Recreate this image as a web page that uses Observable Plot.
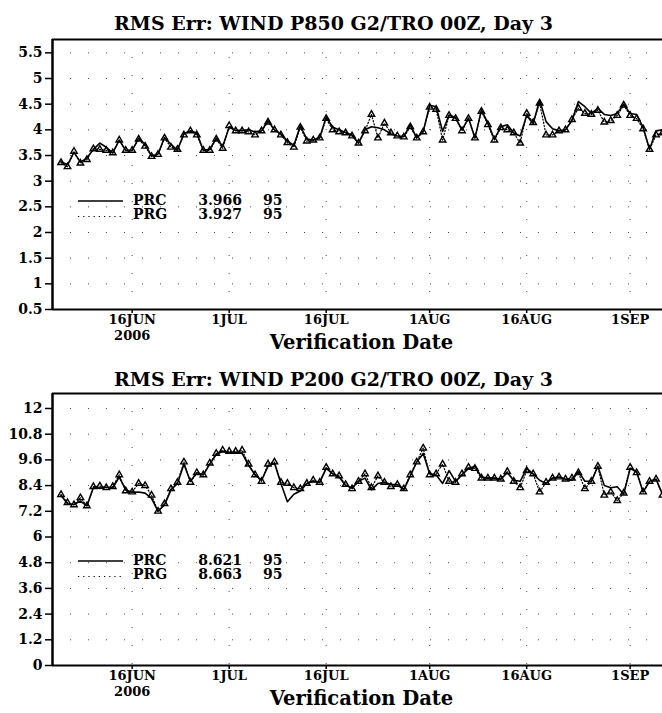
<!DOCTYPE html>
<html>
<head>
<meta charset="utf-8">
<script src="https://cdn.jsdelivr.net/npm/d3@7"></script>
<script src="https://cdn.jsdelivr.net/npm/@observablehq/plot@0.6"></script>
<style>
  body { margin: 0; background: white; }
  #chart svg { display: block; }
</style>
</head>
<body>
<div id="chart"></div>
<script>
// ---- Data ----
const firstDate = "2006-06-04T12:00Z";   // first verification point
const nDays = 95;

const xTickDates = ["2006-06-16", "2006-07-01", "2006-07-16", "2006-08-01", "2006-08-16", "2006-09-01"];
const xTickLabels = ["16JUN\n2006", "1JUL", "16JUL", "1AUG", "16AUG", "1SEP"];

// Panel 1: WIND P850
const title1 = "RMS Err: WIND P850 G2/TRO 00Z, Day 3";
const prc850 = [3.38,3.32,3.56,3.37,3.45,3.62,3.74,3.66,3.55,3.80,3.60,3.60,3.84,3.72,3.49,3.53,3.85,3.72,3.60,3.93,
  3.98,3.94,3.60,3.62,3.84,3.68,4.05,3.99,3.99,4.00,3.96,3.98,4.18,4.00,3.92,3.78,3.70,4.08,3.82,3.80,
  3.85,4.25,4.05,4.00,3.95,3.90,3.74,4.00,4.06,4.04,4.00,3.92,3.88,3.87,4.10,3.84,3.97,4.48,4.45,3.97,
  4.29,4.24,4.00,4.23,3.84,4.39,4.13,3.82,4.06,4.10,3.94,3.88,4.28,4.12,4.58,4.16,4.02,3.98,4.00,4.18,
  4.55,4.45,4.32,4.42,4.30,4.28,4.32,4.50,4.32,4.30,4.05,3.62,3.98,4.00,3.98];
const prg850 = [3.36,3.28,3.58,3.35,3.42,3.63,3.62,3.60,3.55,3.80,3.60,3.60,3.82,3.68,3.48,3.52,3.84,3.66,3.62,3.90,
  3.98,3.90,3.60,3.60,3.82,3.64,4.08,3.98,3.98,3.96,3.90,3.98,4.15,4.00,3.90,3.75,3.66,4.05,3.78,3.80,
  3.84,4.22,4.00,3.96,3.94,3.88,3.74,3.98,4.30,3.84,4.13,3.94,3.88,3.86,4.06,3.84,3.96,4.44,4.40,3.80,
  4.28,4.22,3.98,4.22,3.84,4.36,4.10,3.80,4.04,4.00,3.94,3.74,4.32,4.14,4.52,3.90,3.90,3.98,4.00,4.20,
  4.42,4.32,4.30,4.38,4.15,4.18,4.28,4.48,4.28,4.22,4.02,3.62,3.90,3.94,3.96];
const yTicks1 = [0.5, 1, 1.5, 2, 2.5, 3, 3.5, 4, 4.5, 5, 5.5];
const yLabels1 = ["0.5", "1", "1.5", "2", "2.5", "3", "3.5", "4", "4.5", "5", "5.5"];
const yDomain1 = [0.5, 5.76];
const legendNames1 = ["PRC", "PRG"];
const legendMeans1 = ["3.966", "3.927"];
const legendCounts1 = ["95", "95"];

// Panel 2: WIND P200
const title2 = "RMS Err: WIND P200 G2/TRO 00Z, Day 3";
const prc200 = [7.94,7.55,7.52,7.68,7.45,8.30,8.27,8.32,8.30,8.80,8.20,8.09,8.10,8.05,7.80,7.20,7.50,8.20,8.50,9.40,
  8.60,9.00,8.90,9.40,9.85,10.00,9.95,9.95,9.90,9.35,8.90,8.65,9.30,9.45,8.50,7.65,8.00,8.15,8.50,8.60,
  8.55,9.20,8.95,8.80,8.40,8.30,8.60,8.75,8.20,8.50,8.55,8.45,8.45,8.20,8.85,9.50,9.90,8.95,8.90,8.50,
  9.10,8.60,8.90,9.20,9.30,8.80,8.75,8.75,8.70,9.00,8.65,8.60,9.20,8.95,8.65,8.50,8.75,8.80,8.70,8.65,
  9.05,8.60,8.60,9.30,8.40,8.30,8.35,8.00,9.20,9.05,8.10,8.60,8.70,8.00,8.20];
const prg200 = [7.98,7.60,7.50,7.83,7.45,8.35,8.38,8.30,8.35,8.90,8.15,8.10,8.50,8.40,7.95,7.20,7.55,8.25,8.55,9.50,
  8.55,9.00,8.90,9.45,9.90,10.05,10.00,10.00,10.05,9.40,8.90,8.60,9.40,9.50,8.55,8.50,8.30,8.25,8.50,8.65,
  8.55,9.25,8.95,8.85,8.45,8.25,8.60,8.95,8.30,8.85,8.55,8.35,8.45,8.25,8.90,9.50,10.15,8.90,8.95,9.40,
  8.60,8.55,8.95,9.25,9.20,8.75,8.75,8.75,8.70,9.05,8.60,8.30,9.10,8.95,8.10,8.55,8.75,8.80,8.70,8.75,
  9.00,8.25,8.60,9.30,7.95,8.10,7.70,8.05,9.25,9.00,8.10,8.60,8.70,7.95,8.20];
const yTicks2 = [0, 1.2, 2.4, 3.6, 4.8, 6, 7.2, 8.4, 9.6, 10.8, 12];
const yLabels2 = ["0", "1.2", "2.4", "3.6", "4.8", "6", "7.2", "8.4", "9.6", "10.8", "12"];
const yDomain2 = [0, 12.7];
const legendNames2 = ["PRC", "PRG"];
const legendMeans2 = ["8.621", "8.663"];
const legendCounts2 = ["95", "95"];

const xAxisLabel = "Verification Date";

// ---- Build ----
const dates = d3.utcDay.range(new Date(firstDate), d3.utcDay.offset(new Date(firstDate), nDays));
const xDomain = [new Date("2006-06-03T16:20Z"), new Date("2006-09-06T00:00Z")];
const xTicks = xTickDates.map(s => new Date(s + "T00:00Z"));
const FONT = "DejaVu Serif";

function panel(cfg) {
  const data = dates.map((d, i) => ({date: d, prc: cfg.prc[i], prg: cfg.prg[i]}));
  const grid = {stroke: "black", strokeOpacity: 0.7, strokeWidth: 1, strokeDasharray: "1,17"};
  const svg = Plot.plot({
    width: 662,
    height: cfg.height,
    marginLeft: 52,
    marginRight: 0,
    marginTop: cfg.marginTop,
    marginBottom: cfg.marginBottom,
    style: {fontFamily: FONT, fontWeight: "bold", fontSize: "14px", color: "black", background: "white", overflow: "visible"},
    x: {type: "utc", domain: xDomain, label: null},
    y: {domain: cfg.yDomain, label: null},
    marks: [
      Plot.gridY(cfg.yTicks, grid),
      Plot.gridX(xTicks, grid),
      Plot.lineY(data, {x: "date", y: "prg", stroke: "black", strokeWidth: 1.2, strokeDasharray: "1.2,2", clip: true}),
      Plot.dot(data, {x: "date", y: "prg", symbol: "triangle", r: 2.4, stroke: "black", strokeWidth: 1.4, fill: "none", clip: true}),
      Plot.lineY(data, {x: "date", y: "prc", stroke: "black", strokeWidth: 1.6, clip: true}),
      Plot.axisY(cfg.yTicks, {tickFormat: d => cfg.yLabels[cfg.yTicks.indexOf(d)], tickSize: 7, tickPadding: 3, strokeWidth: 1.5, fontSize: 14}),
      Plot.axisX(xTicks, {tickFormat: d => xTickLabels[xTicks.findIndex(t => +t === +d)], tickSize: 4, tickPadding: 0, strokeWidth: 1.5, fontSize: 13, lineHeight: 1.18}),
      Plot.ruleX([xDomain[0]], {stroke: "black", strokeWidth: 2.5}),
      Plot.ruleY([cfg.yDomain[0]], {stroke: "black", strokeWidth: 2.2}),
      Plot.ruleY([cfg.yDomain[1]], {stroke: "black", strokeWidth: 2}),
      Plot.text([cfg.title], {frameAnchor: "top", dy: cfg.titleDy, dx: -24, fontSize: 19, fontWeight: "bold", fill: "black"}),
      Plot.text([xAxisLabel], {frameAnchor: "bottom", dy: 39, dx: 4, fontSize: 19.5, fontWeight: "bold", fill: "black"})
    ]
  });
  // legend
  const g = d3.select(svg).append("g")
    .attr("font-family", FONT).attr("font-weight", "bold").attr("font-size", 14).attr("text-anchor", "start");
  cfg.legendNames.forEach((name, i) => {
    const y = cfg.legendY + i * 14.5;
    g.append("line").attr("x1", 78).attr("x2", 123).attr("y1", y + (i ? 2 : 1)).attr("y2", y + (i ? 2 : 1))
      .attr("stroke", "black").attr("stroke-width", i ? 1.2 : 1.6).attr("stroke-dasharray", i ? "1.2,4" : null);
    g.append("text").attr("x", 133).attr("y", y).attr("dy", "0.35em").text(name);
    g.append("text").attr("x", 242).attr("y", y).attr("dy", "0.35em").attr("text-anchor", "end").text(cfg.legendMeans[i]);
    g.append("text").attr("x", 263).attr("y", y).attr("dy", "0.35em").text(cfg.legendCounts[i]);
  });
  return svg;
}

const chart = document.getElementById("chart");
chart.appendChild(panel({
  title: title1, prc: prc850, prg: prg850, yDomain: yDomain1, yTicks: yTicks1, yLabels: yLabels1,
  legendNames: legendNames1, legendMeans: legendMeans1, legendCounts: legendCounts1,
  height: 356, marginTop: 39, marginBottom: 47, titleDy: -23, legendY: 200
}));
chart.appendChild(panel({
  title: title2, prc: prc200, prg: prg200, yDomain: yDomain2, yTicks: yTicks2, yLabels: yLabels2,
  legendNames: legendNames2, legendMeans: legendMeans2, legendCounts: legendCounts2,
  height: 357, marginTop: 37, marginBottom: 48, titleDy: -21, legendY: 204
}));
</script>
</body>
</html>
